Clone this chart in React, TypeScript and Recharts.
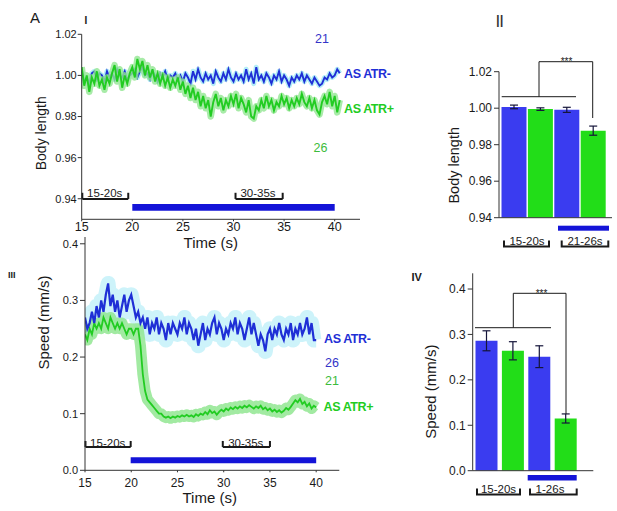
import React from 'react';
import {
  Bar,
  BarChart,
  Cell,
  ErrorBar,
  Line,
  LineChart,
  ReferenceArea,
  ReferenceLine,
  XAxis,
  YAxis,
} from 'recharts';

// Page / layout constants
const W = 617;
const H = 511;
const YW = 40;
const XH = 30;
const FONT = '"Liberation Sans", Arial, Helvetica, sans-serif';

const BLUE_LINE = '#1f2fd6';
const CYAN_BAND = '#a4eaf5';
const GREEN_LINE = '#22cc22';
const GREEN_BAND = '#92e692';
const BLUE_BAR = '#3a3cf0';
const GREEN_BAR = '#22dd18';
const STIM_BLUE = '#1414d8';
const INK = '#1a1a1a';

// Time series: samples every 0.25 s starting at 15 s
const T0 = 15;
const STEP = 0.25;
const TIME_TICKS = [15, 20, 25, 30, 35, 40];

// Panel I — body length, AS ATR- (blue) / AS ATR+ (green)
const LEN_ATR_MINUS = [
  1.002, 0.997, 0.999, 0.996, 1.001, 1.002, 0.998, 1.001, 1.0, 0.997, 1.002, 0.999,
  1.001, 0.998, 1.003, 1.0, 0.999, 1.002, 0.998, 1.0, 1.001, 1.003, 0.999, 1.002,
  1.004, 1.0, 1.001, 0.998, 1.002, 1.0, 0.997, 1.001, 0.999, 1.002, 0.998, 1.0,
  0.999, 1.001, 0.998, 1.0, 0.997, 1.001, 0.999, 0.996, 1.002, 0.998, 1.003, 0.999,
  0.997, 1.001, 0.998, 1.0, 0.996, 1.002, 0.999, 0.997, 1.001, 0.998, 1.003, 0.999,
  0.997, 1.001, 0.998, 1.0, 0.997, 1.003, 0.998, 1.001, 0.996, 1.004, 0.998, 1.0,
  0.997, 1.001, 0.999, 0.996, 1.0, 0.998, 1.002, 0.997, 1.0, 0.998, 0.995, 0.999,
  0.997, 1.0, 0.998, 1.001, 0.997, 1.0, 0.998, 0.996, 0.999, 0.997, 0.995, 0.996,
  0.999, 0.998, 1.001, 0.999, 1.0, 1.003, 1.001,
];
const LEN_ATR_PLUS = [
  1.004, 0.995, 1.0, 0.992, 0.999, 0.996, 1.002, 0.995, 0.998, 0.993, 0.999, 0.996,
  1.001, 1.005, 0.997, 1.003, 0.994, 1.0, 0.996, 1.001, 1.004, 0.999, 1.008, 1.003,
  1.007, 1.0, 1.005, 0.999, 1.003, 0.997, 1.001, 0.996, 1.0, 0.995, 0.999, 0.994,
  0.998, 0.995, 0.999, 0.993, 0.997, 0.991, 0.995, 0.989, 0.994, 0.988, 0.992, 0.985,
  0.99, 0.984, 0.988, 0.98, 0.987, 0.991, 0.985, 0.989, 0.983, 0.988, 0.985, 0.99,
  0.986, 0.991, 0.984, 0.989, 0.986, 0.982, 0.988, 0.98, 0.979, 0.985, 0.983, 0.988,
  0.984, 0.99, 0.985, 0.988, 0.983, 0.987, 0.985, 0.99, 0.986, 0.989, 0.984, 0.988,
  0.985, 0.989, 0.986, 0.991, 0.987, 0.985, 0.989, 0.984, 0.988, 0.983, 0.981, 0.987,
  0.99, 0.986, 0.992, 0.985, 0.99, 0.982, 0.988,
];

// Panel III — speed (mm/s)
const SPEED_ATR_MINUS = [
  0.27, 0.25, 0.26, 0.28, 0.26, 0.29, 0.27, 0.3, 0.28, 0.31, 0.33, 0.29,
  0.31, 0.28, 0.3, 0.27, 0.29, 0.31, 0.28, 0.3, 0.31, 0.29, 0.27, 0.28,
  0.26, 0.27, 0.25, 0.27, 0.24, 0.26, 0.25, 0.27, 0.24, 0.26, 0.25, 0.23,
  0.26, 0.24, 0.26, 0.25, 0.24, 0.26, 0.25, 0.27, 0.24, 0.26, 0.25, 0.23,
  0.25, 0.22, 0.24, 0.26, 0.23, 0.25, 0.24, 0.26, 0.27, 0.24, 0.26, 0.25,
  0.23, 0.25, 0.24, 0.26, 0.25, 0.27, 0.24, 0.26, 0.25, 0.23, 0.25, 0.27,
  0.24, 0.26, 0.24, 0.22, 0.24, 0.23, 0.21, 0.24, 0.25, 0.23, 0.25, 0.24,
  0.26, 0.24, 0.23, 0.25, 0.24, 0.26, 0.23, 0.25, 0.24, 0.26, 0.24, 0.25,
  0.27, 0.24, 0.26, 0.23, 0.23,
];
const SPEED_ATR_PLUS = [
  0.24, 0.23, 0.25, 0.24, 0.26, 0.25, 0.26, 0.25, 0.27, 0.26, 0.25, 0.27,
  0.26, 0.25, 0.26, 0.25, 0.26, 0.25, 0.24, 0.25, 0.25, 0.24, 0.25, 0.25,
  0.22, 0.17, 0.14, 0.125, 0.12, 0.115, 0.11, 0.105, 0.1, 0.1, 0.095, 0.093,
  0.095, 0.092, 0.095, 0.093, 0.096, 0.094, 0.097, 0.095, 0.098, 0.095, 0.097, 0.094,
  0.099, 0.096, 0.1, 0.098, 0.103, 0.099, 0.106, 0.101, 0.104, 0.098, 0.103, 0.107,
  0.104, 0.109, 0.106, 0.111, 0.108, 0.112, 0.109, 0.113, 0.11, 0.114, 0.111, 0.115,
  0.112, 0.109, 0.113, 0.11, 0.114, 0.108, 0.111, 0.106, 0.109, 0.104, 0.107, 0.103,
  0.106, 0.102, 0.105, 0.11, 0.107, 0.112, 0.118, 0.124, 0.12, 0.126, 0.117, 0.121,
  0.113, 0.118, 0.109, 0.114, 0.111,
];

// Panels II / IV — window means
const BAR_GROUPS = ['ATR- 15-20s', 'ATR+ 15-20s', 'ATR- 21-26s', 'ATR+ 21-26s'];
const BAR_COLORS = [BLUE_BAR, GREEN_BAR, BLUE_BAR, GREEN_BAR];
const LEN_MEAN = [1.0007, 0.9995, 0.9991, 0.9877];
const LEN_SEM = [0.001, 0.0007, 0.0014, 0.0025];
const SPEED_MEAN = [0.286, 0.264, 0.251, 0.115];
const SPEED_SEM = [0.022, 0.02, 0.024, 0.01];

const lengthRows = LEN_ATR_MINUS.map((v, i) => ({ t: T0 + i * STEP, minus: v, plus: LEN_ATR_PLUS[i] }));
const speedRows = SPEED_ATR_MINUS.map((v, i) => ({ t: T0 + i * STEP, minus: v, plus: SPEED_ATR_PLUS[i] }));
const lengthBars = BAR_GROUPS.map((g, i) => ({ g, v: LEN_MEAN[i], e: LEN_SEM[i] }));
const speedBars = BAR_GROUPS.map((g, i) => ({ g, v: SPEED_MEAN[i], e: SPEED_SEM[i] }));

// plot rectangle in page pixels -> recharts margin
function marginFor(x0: number, y0: number, x1: number, y1: number) {
  return { left: x0 - YW, top: y0, right: W - x1, bottom: H - y1 - XH };
}

const layer: React.CSSProperties = { position: 'absolute', left: 0, top: 0 };

// three reference segments forming a "|_|" bracket in data coords
function bracket(key: string, xa: number, xb: number, yLow: number, yHigh: number) {
  const p = { stroke: INK, strokeWidth: 2, ifOverflow: 'visible' as const };
  return [
    <ReferenceLine key={key + 'a'} segment={[{ x: xa, y: yHigh }, { x: xa, y: yLow }]} {...p} />,
    <ReferenceLine key={key + 'b'} segment={[{ x: xa, y: yLow }, { x: xb, y: yLow }]} {...p} />,
    <ReferenceLine key={key + 'c'} segment={[{ x: xb, y: yLow }, { x: xb, y: yHigh }]} {...p} />,
  ];
}

function LengthTrace() {
  return (
    <div style={layer}>
      <LineChart width={W} height={H} data={lengthRows} margin={marginFor(81.7, 34.3, 360, 219.3)}>
        <XAxis
          type="number"
          dataKey="t"
          domain={[15, 42.5]}
          ticks={TIME_TICKS}
          height={XH}
          tickSize={2}
          tickMargin={1}
          stroke="#333"
          tick={{ fontSize: 12.5, fill: INK, fontFamily: FONT }}
          allowDataOverflow
        />
        <YAxis
          type="number"
          domain={[0.93, 1.02]}
          ticks={[0.94, 0.96, 0.98, 1.0, 1.02]}
          width={YW}
          tickSize={4}
          tickMargin={1}
          stroke="#333"
          tick={{ fontSize: 11, fill: INK, fontFamily: FONT }}
          tickFormatter={(v: number) => v.toFixed(2)}
          allowDataOverflow
        />
        <ReferenceArea x1={20} x2={40} y1={0.9341} y2={0.9374} fill={STIM_BLUE} fillOpacity={1} stroke="none" />
        {bracket('l1', 15.06, 19.6, 0.9399, 0.9429)}
        {bracket('l2', 30.2, 34.86, 0.9399, 0.9429)}
        <Line dataKey="minus" stroke={CYAN_BAND} strokeWidth={5} strokeOpacity={0.85} dot={false} isAnimationActive={false} strokeLinejoin="round" />
        <Line dataKey="minus" stroke={BLUE_LINE} strokeWidth={1.9} dot={false} isAnimationActive={false} />
        <Line dataKey="plus" stroke={GREEN_BAND} strokeWidth={6.5} strokeOpacity={0.8} dot={false} isAnimationActive={false} strokeLinejoin="round" />
        <Line dataKey="plus" stroke={GREEN_LINE} strokeWidth={1.9} dot={false} isAnimationActive={false} />
      </LineChart>
    </div>
  );
}

function SpeedTrace() {
  return (
    <div style={layer}>
      <LineChart width={W} height={H} data={speedRows} margin={marginFor(85, 237, 339.3, 470.3)}>
        <XAxis
          type="number"
          dataKey="t"
          domain={[15, 42.5]}
          ticks={TIME_TICKS}
          height={XH}
          tickSize={2}
          tickMargin={6}
          stroke="#333"
          tick={{ fontSize: 12, fill: INK, fontFamily: FONT }}
          allowDataOverflow
        />
        <YAxis
          type="number"
          domain={[0, 0.412]}
          ticks={[0, 0.1, 0.2, 0.3, 0.4]}
          width={YW}
          tickSize={5}
          tickMargin={2}
          stroke="#333"
          tick={{ fontSize: 11, fill: INK, fontFamily: FONT }}
          tickFormatter={(v: number) => v.toFixed(1)}
          allowDataOverflow
        />
        <ReferenceArea x1={19.94} x2={40} y1={0.0124} y2={0.023} fill={STIM_BLUE} fillOpacity={1} stroke="none" />
        {bracket('s1', 15.05, 19.94, 0.0412, 0.0518)}
        {bracket('s2', 29.9, 35.0, 0.0412, 0.0518)}
        <Line dataKey="minus" stroke={CYAN_BAND} strokeWidth={15} strokeOpacity={0.55} dot={false} isAnimationActive={false} strokeLinejoin="round" />
        <Line dataKey="plus" stroke={GREEN_BAND} strokeWidth={11} strokeOpacity={0.85} dot={false} isAnimationActive={false} strokeLinejoin="round" />
        <Line dataKey="plus" stroke={GREEN_LINE} strokeWidth={1.8} dot={false} isAnimationActive={false} />
        <Line dataKey="minus" stroke={BLUE_LINE} strokeWidth={2.2} dot={false} isAnimationActive={false} />
      </LineChart>
    </div>
  );
}

function WindowBars(props: {
  rows: { g: string; v: number; e: number }[];
  rect: [number, number, number, number];
  domain: [number, number];
  ticks: number[];
  digits: number;
  barSize: number;
  padding: { left: number; right: number };
}) {
  const [x0, y0, x1, y1] = props.rect;
  return (
    <div style={layer}>
      <BarChart width={W} height={H} data={props.rows} margin={marginFor(x0, y0, x1, y1)} barSize={props.barSize}>
        <XAxis dataKey="g" height={XH} tick={false} tickLine={false} stroke="#333" padding={props.padding} />
        <YAxis
          type="number"
          domain={props.domain}
          ticks={props.ticks}
          width={YW}
          tickSize={5}
          tickMargin={2}
          stroke="#333"
          tick={{ fontSize: 12, fill: INK, fontFamily: FONT }}
          tickFormatter={(v: number) => v.toFixed(props.digits)}
          allowDataOverflow
        />
        <Bar dataKey="v" isAnimationActive={false}>
          {props.rows.map((r, i) => (
            <Cell key={r.g} fill={BAR_COLORS[i]} />
          ))}
          <ErrorBar dataKey="e" width={4} stroke="#15153a" strokeWidth={1.2} direction="y" />
        </Bar>
      </BarChart>
    </div>
  );
}

// page-pixel annotation helpers for the bar panels
function Brace({ x0, x1, y, label, tx }: { x0: number; x1: number; y: number; label: string; tx: number }) {
  return (
    <g>
      <path d={`M${x0} ${y - 6} V${y} H${x1} V${y - 6}`} fill="none" stroke={INK} strokeWidth={2} />
      <text x={tx} y={y - 1.5} fontSize={11.5} textAnchor="middle" fill={INK}>
        {label}
      </text>
    </g>
  );
}

function Overlay() {
  const bold = { fontWeight: 700, fontSize: 12.5, letterSpacing: -0.4 } as const;
  return (
    <svg width={W} height={H} style={layer} fontFamily={FONT}>
      {/* panel letters */}
      <text x={30} y={22.5} fontSize={15} fill={INK}>A</text>
      <text x={84.5} y={23.5} fontSize={10} fontWeight={700} fill={INK}>I</text>
      <text x={495.5} y={26.5} fontSize={17} fill="#333" letterSpacing={-1}>II</text>
      <text x={8} y={277.5} fontSize={9} fontWeight={700} fill={INK}>III</text>
      <text x={411.5} y={280.5} fontSize={11} fontWeight={700} fill={INK}>IV</text>

      {/* panel I */}
      <text transform="translate(45.5,133.3) rotate(-90)" fontSize={14} textAnchor="middle" fill={INK}>Body length</text>
      <text x={210.8} y={247.5} fontSize={15} textAnchor="middle" fill={INK}>Time (s)</text>
      <text x={315} y={42.5} fontSize={12.5} fill="#3434c8">21</text>
      <text x={313.5} y={151.5} fontSize={12.5} fill="#3cbc3c">26</text>
      <text x={344} y={78.3} fill={BLUE_LINE} {...bold}>AS ATR-</text>
      <text x={344} y={113} fill={GREEN_LINE} {...bold}>AS ATR+</text>
      <text x={104.7} y={197} fontSize={11.5} textAnchor="middle" fill={INK}>15-20s</text>
      <text x={258} y={197} fontSize={11.5} textAnchor="middle" fill={INK}>30-35s</text>

      {/* panel III */}
      <text transform="translate(48.5,322.5) rotate(-90)" fontSize={15} textAnchor="middle" fill={INK}>Speed (mm/s)</text>
      <text x={209.7} y={502.7} fontSize={15} textAnchor="middle" fill={INK}>Time (s)</text>
      <text x={324} y={343.3} fill={BLUE_LINE} {...bold}>AS ATR-</text>
      <text x={325} y={366.7} fontSize={12.5} fill="#3434c8">26</text>
      <text x={325} y={385} fontSize={12.5} fill="#3cbc3c">21</text>
      <text x={323.5} y={411} fill={GREEN_LINE} {...bold}>AS ATR+</text>
      <text x={107.7} y={446.5} fontSize={11.5} textAnchor="middle" fill={INK}>15-20s</text>
      <text x={245.8} y={446.5} fontSize={11.5} textAnchor="middle" fill={INK}>30-35s</text>

      {/* panel II */}
      <text transform="translate(459.3,165.3) rotate(-90)" fontSize={14.5} textAnchor="middle" fill={INK}>Body length</text>
      <line x1={501.7} x2={576} y1={96.7} y2={96.7} stroke={INK} strokeWidth={1} />
      <path d="M539 96.7 V61.7 H592.7 V118" fill="none" stroke={INK} strokeWidth={1} />
      <text x={566.5} y={64.5} fontSize={10} textAnchor="middle" fill={INK}>***</text>
      <rect x={558} y={225.7} width={51} height={5} fill={STIM_BLUE} />
      <Brace x0={504} x1={549} y={246.5} label="15-20s" tx={527} />
      <Brace x0={561.7} x1={608.3} y={246.5} label="21-26s" tx={585} />

      {/* panel IV */}
      <text transform="translate(435.5,391.7) rotate(-90)" fontSize={15} textAnchor="middle" fill={INK}>Speed (mm/s)</text>
      <line x1={475} x2={551} y1={327.7} y2={327.7} stroke={INK} strokeWidth={1} />
      <path d="M513.3 327.7 V293.3 H566 V414" fill="none" stroke={INK} strokeWidth={1} />
      <text x={541.5} y={296.5} fontSize={10} textAnchor="middle" fill={INK}>***</text>
      <rect x={527.7} y={475} width={49} height={5.5} fill={STIM_BLUE} />
      <Brace x0={477} x1={520} y={494.5} label="15-20s" tx={498.5} />
      <Brace x0={530} x1={576.7} y={494.5} label="1-26s" tx={550} />
    </svg>
  );
}

export default function App() {
  return (
    <div style={{ position: 'absolute', left: 0, top: 0, width: W, height: H, background: '#fff', overflow: 'hidden', fontFamily: FONT }}>
      <LengthTrace />
      <SpeedTrace />
      <WindowBars
        rows={lengthBars}
        rect={[499, 71.7, 612, 217.7]}
        domain={[0.94, 1.02]}
        ticks={[0.94, 0.96, 0.98, 1.0, 1.02]}
        digits={2}
        barSize={25}
        padding={{ left: 1.5, right: 5.9 }}
      />
      <WindowBars
        rows={speedBars}
        rect={[472.7, 273.3, 593.3, 470.7]}
        domain={[0, 0.4346]}
        ticks={[0, 0.1, 0.2, 0.3, 0.4]}
        digits={1}
        barSize={22}
        padding={{ left: 0.8, right: 14.2 }}
      />
      <Overlay />
    </div>
  );
}
